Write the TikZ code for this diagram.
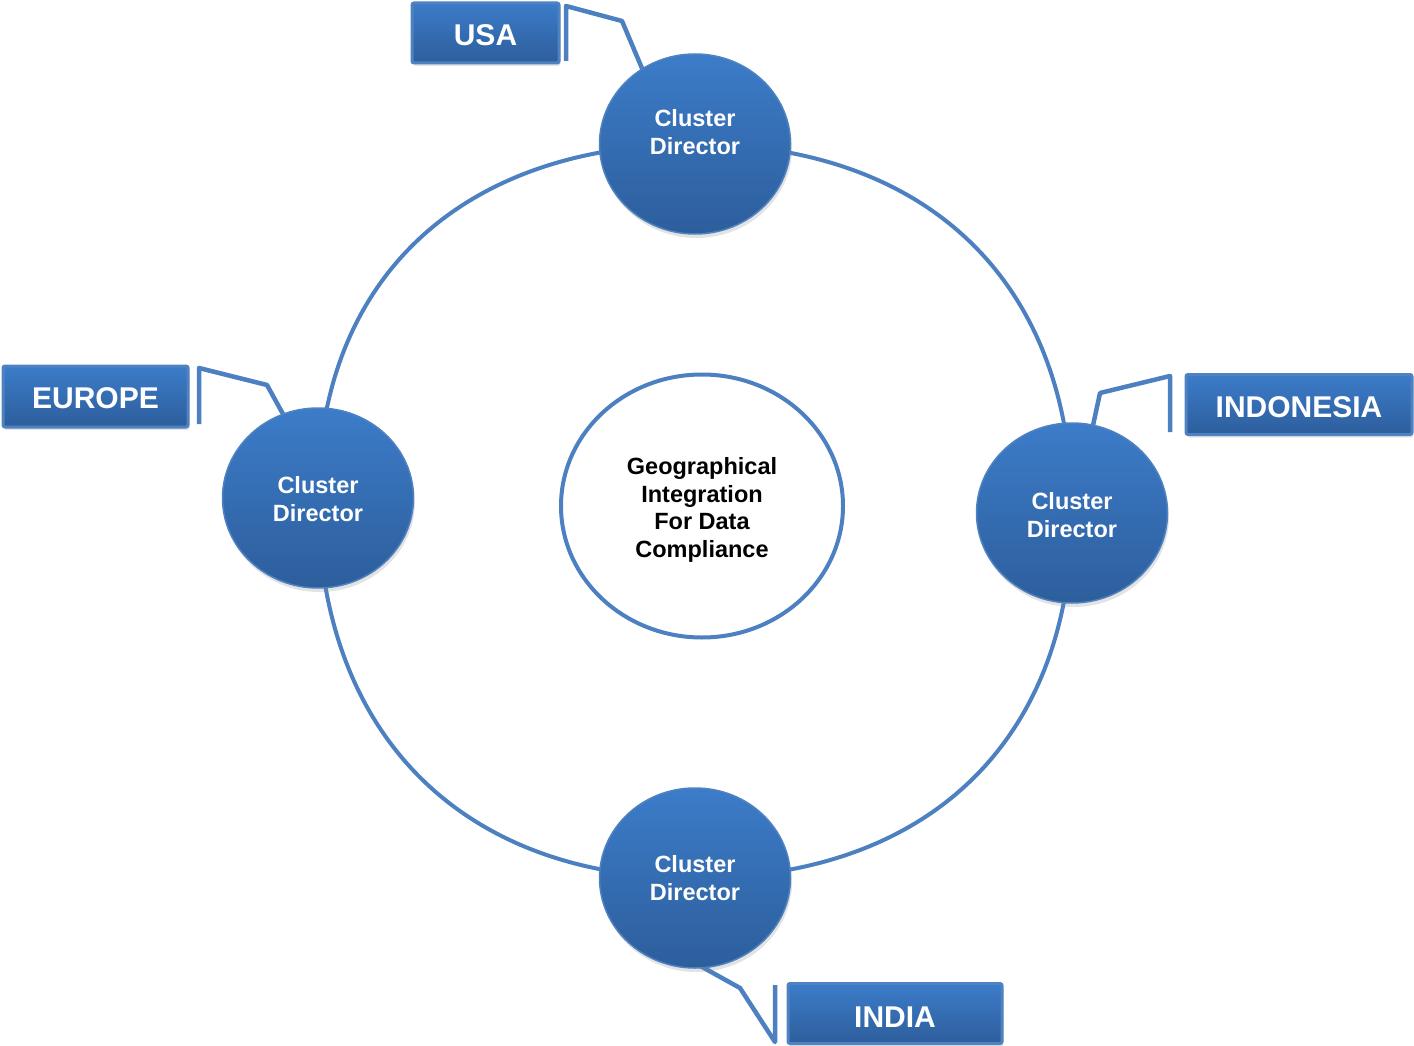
\documentclass[tikz,border=0pt]{standalone}
\usepackage{fontspec}
\setmainfont{Liberation Sans}
\usetikzlibrary{shapes.geometric,shadows,calc}
\pgfdeclarelayer{background}
\pgfsetlayers{background,main}
\definecolor{ringblue}{RGB}{76,128,192}
\definecolor{topblue}{RGB}{60,124,201}
\definecolor{botblue}{RGB}{45,94,156}
\definecolor{edgeblue}{RGB}{79,130,193}
\tikzset{
  cd/.style={ellipse, minimum width=191pt, minimum height=180pt, inner sep=0pt,
    top color=topblue, bottom color=botblue, draw=edgeblue, line width=1.5pt,
    drop shadow={opacity=0.22, shadow xshift=1.5pt, shadow yshift=-4pt}},
  ctext/.style={text=white, font=\bfseries\fontsize{23.5}{27.7}\selectfont, align=center},
  tagbox/.style={rectangle, rounded corners=2pt, draw=edgeblue, line width=3pt,
    top color=topblue, bottom color=botblue, inner sep=0pt,
    drop shadow={opacity=0.2, shadow xshift=1.5pt, shadow yshift=-3pt}},
  tagtext/.style={text=white, font=\bfseries\fontsize{30}{35}\selectfont},
  tagline/.style={draw=ringblue, line width=4.5pt, line join=round},
  ringline/.style={draw=ringblue, line width=4pt},
  hub/.style={ellipse, minimum width=282pt, minimum height=263pt, inner sep=0pt,
    draw=ringblue, line width=4pt, fill=white},
  hubtext/.style={align=center, font=\bfseries\fontsize{23.5}{27.5}\selectfont}
}
\begin{document}
\begin{tikzpicture}[x=1pt,y=-1pt]
\useasboundingbox (0,0) rectangle (1414,1046);

% cluster director circles
\node[cd, label={[ctext,yshift=12pt]center:Cluster\\Director}] (T) at (695,144) {};
\node[cd, label={[ctext,yshift=-1pt]center:Cluster\\Director}] (L) at (318,498) {};
\node[cd, label={[ctext,yshift=-2pt]center:Cluster\\Director}] (R) at (1072,513) {};
\node[cd, label={[ctext]center:Cluster\\Director}] (B) at (695,878) {};

% hub
\node[hub, label={[hubtext,yshift=-4pt]center:Geographical\\Integration\\For Data\\Compliance}] (H) at (702,506) {};

% region tags
\node[tagbox, minimum width=147pt, minimum height=60pt,
      label={[tagtext,yshift=-2pt]center:USA}] (usa) at (485.5,33) {};
\node[tagbox, minimum width=185pt, minimum height=61pt,
      label={[tagtext,yshift=-2pt]center:EUROPE}] (eur) at (95.5,396.5) {};
\node[tagbox, minimum width=226pt, minimum height=60pt,
      label={[tagtext,yshift=-2.5pt]center:INDONESIA}] (ind) at (1299,404.5) {};
\node[tagbox, minimum width=214pt, minimum height=60pt,
      label={[tagtext,yshift=-3.5pt]center:INDIA}] (inh) at (895,1013.5) {};

% callout points
\coordinate (usa1) at (566,61);  \coordinate (usa2) at (566,6);
\coordinate (usa3) at (622,21);  \coordinate (usa4) at (652,92);
\coordinate (eur1) at (199,424); \coordinate (eur2) at (199,368);
\coordinate (eur3) at (267,385); \coordinate (eur4) at (294,434);
\coordinate (ind1) at (1170,432); \coordinate (ind2) at (1170,376);
\coordinate (ind3) at (1100,393); \coordinate (ind4) at (1089,444);
\coordinate (inh1) at (775,985); \coordinate (inh2) at (775,1042);
\coordinate (inh3) at (740,988); \coordinate (inh4) at (686,958);

\begin{pgfonlayer}{background}
  % ring
  \draw[ringline] (L.center) .. controls (318,279) and (461,145) .. (T.center);
  \draw[ringline] (T.center) .. controls (929,145) and (1072,284) .. (R.center);
  \draw[ringline] (R.center) .. controls (1072,739) and (929,878) .. (B.center);
  \draw[ringline] (B.center) .. controls (461,878) and (318,733) .. (L.center);
  % callout lines
  \draw[tagline] (usa1) -- (usa2) -- (usa3) -- (usa4);
  \draw[tagline] (eur1) -- (eur2) -- (eur3) -- (eur4);
  \draw[tagline] (ind1) -- (ind2) -- (ind3) -- (ind4);
  \draw[tagline] (inh1) -- (inh2) -- (inh3) -- (inh4);
\end{pgfonlayer}
\end{tikzpicture}
\end{document}
